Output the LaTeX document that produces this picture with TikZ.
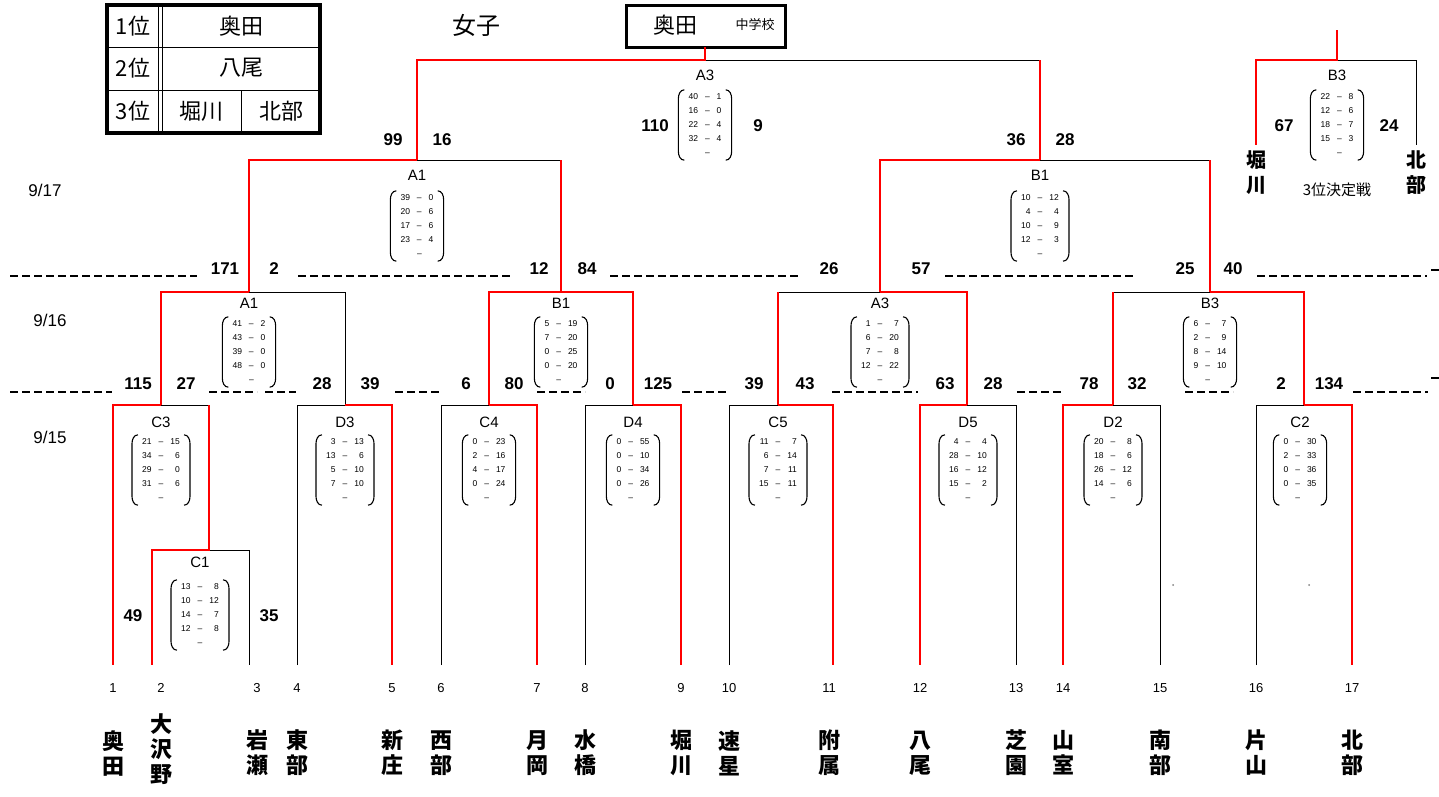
\documentclass[tikz,border=0pt]{standalone}
\usepackage{fontspec}
\setmainfont{Liberation Sans}
\newfontfamily\jp{Noto Sans CJK JP}
\definecolor{wred}{RGB}{255,0,0}
\tikzset{
 rl/.style={draw=wred,line width=2pt},
 bl/.style={draw=black,line width=1pt},
 dl/.style={draw=black,line width=2pt,dash pattern=on 8pt off 4pt},
 sc/.style={font=\bfseries\fontsize{17}{17}\selectfont,inner sep=0pt},
 lab/.style={font=\fontsize{15}{15}\selectfont,inner sep=0pt},
 mat/.style={font=\fontsize{8.5}{14}\selectfont,inner xsep=10pt,inner ysep=0pt},
 br/.style={line width=1.1pt},
 nm/.style={font=\jp\bfseries\fontsize{22}{25}\selectfont,align=center,inner sep=0pt},
 num/.style={font=\fontsize{13}{13}\selectfont,inner sep=0pt},
 date/.style={font=\fontsize{17}{17}\selectfont,inner sep=0pt},
 jt/.style={font=\jp\fontsize{22}{22}\selectfont,inner sep=0pt},
}
\newcommand\dsh{\textendash}
\newcommand\scm[4]{%
 \node[mat] (#1) at (#2,#3) {\begin{tabular}{@{}r@{\hspace{7pt}}c@{\hspace{7pt}}r@{}}#4&\dsh&\end{tabular}};
 \draw[br] ([xshift=6pt]#1.north west) to[out=180,in=90] ([yshift=-9pt]#1.north west) -- ([yshift=9pt]#1.south west) to[out=-90,in=180] ([xshift=6pt]#1.south west);
 \draw[br] ([xshift=-6pt]#1.north east) to[out=0,in=90] ([yshift=-9pt]#1.north east) -- ([yshift=9pt]#1.south east) to[out=-90,in=0] ([xshift=-6pt]#1.south east);}
\begin{document}
\begin{tikzpicture}[x=1pt,y=-1pt]
\useasboundingbox (0,0) rectangle (1439,796);
% ranking table
\draw[line width=4pt] (107,5) rectangle (320,133);
\draw[line width=1pt] (107,47)--(320,47) (107,90)--(320,90) (158,5)--(158,133) (162,5)--(162,133) (241,90)--(241,133);
\node[jt] (r1) at (133,26) {1位};
\node[jt] (r1n) at (241,26) {奥田};
\node[jt] (r2) at (133,68) {2位};
\node[jt] (r2n) at (241,68) {八尾};
\node[jt] (r3) at (133,111) {3位};
\node[jt] (r3a) at (201,111) {堀川};
\node[jt] (r3b) at (281,111) {北部};
\node[font=\jp\fontsize{24}{24}\selectfont,inner sep=0pt] (title) at (476,25) {女子};
% champion box
\draw[line width=3pt] (626,5) rectangle (785,47);
\node[jt] (champ) at (675,25) {奥田};
\node[font=\jp\fontsize{13}{13}\selectfont,inner sep=0pt] (champs) at (755,25) {中学校};
% dates
\node[date] (d17) at (45,190) {9/17};
\node[date] (d16) at (50,320) {9/16};
\node[date] (d15) at (50,437) {9/15};
% dashed separators
\foreach \a/\b in {10/197,298/513,610/800,945/1135,1257/1427} \draw[dl] (\a,276)--(\b,276);
\foreach \a/\b in {10/112,209/257,265/296,395/441,537/585,682/729,832/918,1017/1062,1185/1233,1353/1428} \draw[dl] (\a,392)--(\b,392);
\draw[line width=2pt] (1431,270)--(1439,270) (1431,378)--(1439,378);
% black bracket lines
\draw[bl] (705,60)--(1040,60);
\draw[bl] (1337,60)--(1416,60)--(1416,145);
\draw[bl] (417,160)--(561,160);
\draw[bl] (1040,160)--(1210,160);
\draw[bl] (249,292)--(345,292)--(345,405);
\draw[bl] (778,292)--(880,292);
\draw[bl] (1113,292)--(1210,292);
\draw[bl] (161,405)--(209,405);
\draw[bl] (209,550)--(249,550)--(249,665);
\draw[bl] (297,665)--(297,405)--(345,405);
\draw[bl] (441,665)--(441,405)--(489,405);
\draw[bl] (585,665)--(585,405)--(633,405);
\draw[bl] (729,665)--(729,405)--(778,405);
\draw[bl] (967,405)--(1016,405)--(1016,665);
\draw[bl] (1113,405)--(1160,405)--(1160,665);
\draw[bl] (1256,665)--(1256,405)--(1304,405);
% red bracket lines
\draw[rl] (705,47)--(705,60)--(417,60)--(417,160);
\draw[rl] (1040,60)--(1040,160);
\draw[rl] (1337,30)--(1337,60)--(1256,60)--(1256,145);
\draw[rl] (417,160)--(249,160)--(249,292);
\draw[rl] (561,160)--(561,292);
\draw[rl] (1040,160)--(880,160)--(880,292);
\draw[rl] (1210,160)--(1210,292);
\draw[rl] (249,292)--(161,292)--(161,405);
\draw[rl] (489,405)--(489,292)--(633,292)--(633,405);
\draw[rl] (880,292)--(967,292)--(967,405);
\draw[rl] (778,292)--(778,405);
\draw[rl] (1210,292)--(1304,292)--(1304,405);
\draw[rl] (1113,292)--(1113,405);
\draw[rl] (161,405)--(113,405)--(113,665);
\draw[rl] (209,405)--(209,550)--(152,550)--(152,665);
\draw[rl] (345,405)--(392,405)--(392,665);
\draw[rl] (489,405)--(537,405)--(537,665);
\draw[rl] (633,405)--(681,405)--(681,665);
\draw[rl] (778,405)--(833,405)--(833,665);
\draw[rl] (967,405)--(920,405)--(920,665);
\draw[rl] (1113,405)--(1063,405)--(1063,665);
\draw[rl] (1304,405)--(1352,405)--(1352,665);
% match labels and score matrices
\node[lab] (lA3) at (705,75) {A3};
\scm{mA3}{705}{125}{40&\dsh&1\\16&\dsh&0\\22&\dsh&4\\32&\dsh&4\\}
\node[lab] (lB3t) at (1337,75) {B3};
\scm{mB3t}{1337}{125}{22&\dsh&8\\12&\dsh&6\\18&\dsh&7\\15&\dsh&3\\}
\node[lab] (lA1a) at (417,175) {A1};
\scm{mA1a}{417}{226}{39&\dsh&0\\20&\dsh&6\\17&\dsh&6\\23&\dsh&4\\}
\node[lab] (lB1a) at (1040,175) {B1};
\scm{mB1a}{1040}{226}{10&\dsh&12\\4&\dsh&4\\10&\dsh&9\\12&\dsh&3\\}
\node[lab] (lA1b) at (249,303) {A1};
\scm{mA1b}{249}{352}{41&\dsh&2\\43&\dsh&0\\39&\dsh&0\\48&\dsh&0\\}
\node[lab] (lB1b) at (561,303) {B1};
\scm{mB1b}{561}{352}{5&\dsh&19\\7&\dsh&20\\0&\dsh&25\\0&\dsh&20\\}
\node[lab] (lA3b) at (880,303) {A3};
\scm{mA3b}{880}{352}{1&\dsh&7\\6&\dsh&20\\7&\dsh&8\\12&\dsh&22\\}
\node[lab] (lB3b) at (1210,303) {B3};
\scm{mB3b}{1210}{352}{6&\dsh&7\\2&\dsh&9\\8&\dsh&14\\9&\dsh&10\\}
\node[lab] (lC3) at (161,422) {C3};
\scm{mC3}{161}{470}{21&\dsh&15\\34&\dsh&6\\29&\dsh&0\\31&\dsh&6\\}
\node[lab] (lD3) at (345,422) {D3};
\scm{mD3}{345}{470}{3&\dsh&13\\13&\dsh&6\\5&\dsh&10\\7&\dsh&10\\}
\node[lab] (lC4) at (489,422) {C4};
\scm{mC4}{489}{470}{0&\dsh&23\\2&\dsh&16\\4&\dsh&17\\0&\dsh&24\\}
\node[lab] (lD4) at (633,422) {D4};
\scm{mD4}{633}{470}{0&\dsh&55\\0&\dsh&10\\0&\dsh&34\\0&\dsh&26\\}
\node[lab] (lC5) at (778,422) {C5};
\scm{mC5}{778}{470}{11&\dsh&7\\6&\dsh&14\\7&\dsh&11\\15&\dsh&11\\}
\node[lab] (lD5) at (968,422) {D5};
\scm{mD5}{968}{470}{4&\dsh&4\\28&\dsh&10\\16&\dsh&12\\15&\dsh&2\\}
\node[lab] (lD2) at (1113,422) {D2};
\scm{mD2}{1113}{470}{20&\dsh&8\\18&\dsh&6\\26&\dsh&12\\14&\dsh&6\\}
\node[lab] (lC2) at (1300,422) {C2};
\scm{mC2}{1300}{470}{0&\dsh&30\\2&\dsh&33\\0&\dsh&36\\0&\dsh&35\\}
\node[lab] (lC1) at (200,562) {C1};
\scm{mC1}{200}{615}{13&\dsh&8\\10&\dsh&12\\14&\dsh&7\\12&\dsh&8\\}
% scores
\foreach \x/\y/\t [count=\i] in {393/140/99,442/140/16,655/126/110,758/126/9,1016/140/36,1065/140/28,1284/126/67,1389/126/24,
 225/269/171,274/269/2,539/269/12,587/269/84,829/269/26,921/269/57,1185/269/25,1233/269/40,
 138/384/115,186/384/27,322/384/28,370/384/39,466/384/6,514/384/80,610/384/0,658/384/125,
 754/384/39,805/384/43,945/384/63,993/384/28,1089/384/78,1137/384/32,1281/384/2,1329/384/134,
 133/616/49,269/616/35}
 \node[sc] (s\i) at (\x,\y) {\t};
% third place
\node[nm,font=\jp\bfseries\fontsize{20}{25}\selectfont] (tp1) at (1256,173) {堀\\川};
\node[nm,font=\jp\bfseries\fontsize{20}{25}\selectfont] (tp2) at (1416,173) {北\\部};
\node[font=\jp\fontsize{15}{15}\selectfont,inner sep=0pt] (tpl) at (1337,190) {3位決定戦};
% dots
\fill[gray] (1173,585) circle (1pt) (1309,585) circle (1pt);
% leaf numbers
\foreach \x/\t in {113/1,161/2,257/3,297/4,392/5,441/6,537/7,585/8,681/9,729/10,829/11,920/12,1016/13,1063/14,1160/15,1256/16,1352/17}
 \node[num] (n\t) at (\x,688) {\t};
% team names
\node[nm] (t1) at (113,753) {奥\\田};
\node[nm] (t2) at (161,749) {大\\沢\\野};
\node[nm] (t3) at (257,753) {岩\\瀬};
\node[nm] (t4) at (297,753) {東\\部};
\node[nm] (t5) at (392,753) {新\\庄};
\node[nm] (t6) at (441,753) {西\\部};
\node[nm] (t7) at (537,753) {月\\岡};
\node[nm] (t8) at (585,753) {水\\橋};
\node[nm] (t9) at (681,753) {堀\\川};
\node[nm] (t10) at (729,753) {速\\星};
\node[nm] (t11) at (829,753) {附\\属};
\node[nm] (t12) at (920,753) {八\\尾};
\node[nm] (t13) at (1016,753) {芝\\園};
\node[nm] (t14) at (1063,753) {山\\室};
\node[nm] (t15) at (1160,753) {南\\部};
\node[nm] (t16) at (1256,753) {片\\山};
\node[nm] (t17) at (1352,753) {北\\部};
\end{tikzpicture}
\end{document}
